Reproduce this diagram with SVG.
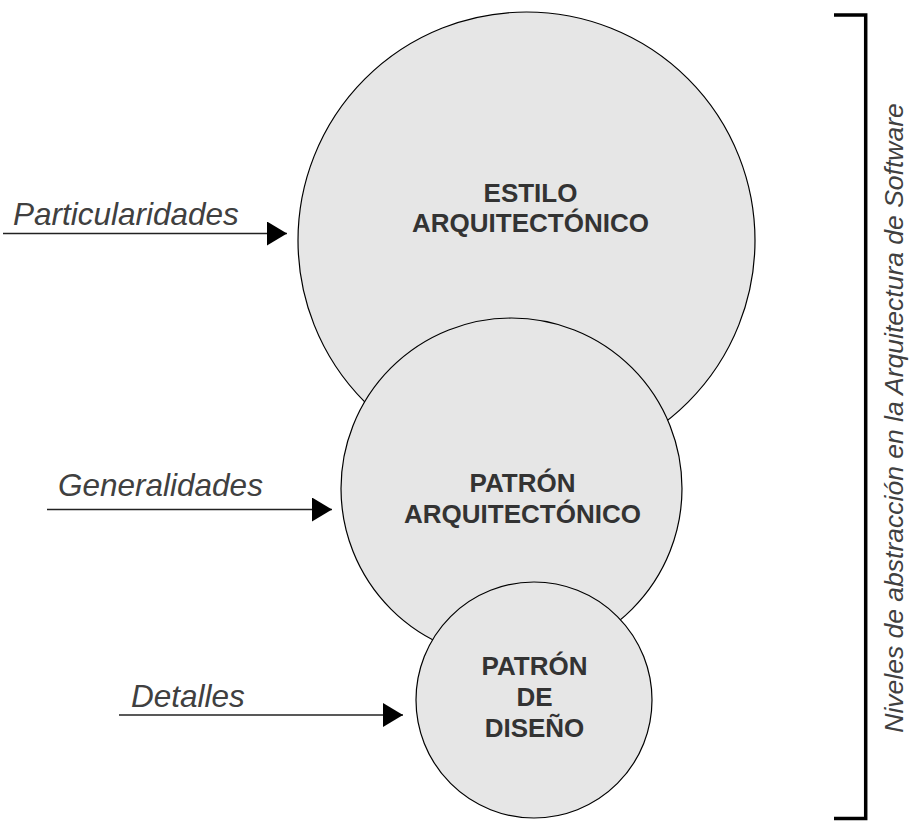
<svg xmlns="http://www.w3.org/2000/svg" width="909" height="821" viewBox="0 0 909 821">
<style>
.c{fill:#e6e6e6;stroke:#000;stroke-width:1.2}
.t{font-family:"Liberation Sans",Arial,sans-serif;font-weight:bold;font-size:26px;fill:#333;text-anchor:middle}
.l{font-family:"Liberation Sans",Arial,sans-serif;font-style:italic;font-size:31.5px;fill:#404040}
.a{stroke:#222;stroke-width:1.6;fill:none;marker-end:url(#ah)}
</style>
<defs>
<marker id="ah" markerUnits="userSpaceOnUse" markerWidth="22" markerHeight="26" refX="20" refY="12" orient="auto" viewBox="0 0 22 26">
<path d="M0,0 L20,12 L0,24 Z" fill="#000"/>
</marker>
</defs>
<g id="estilo">
<circle class="c" cx="526.5" cy="240.5" r="228.5"/>
<text class="t" x="530.5" y="202">ESTILO</text>
<text class="t" x="530.5" y="232">ARQUITECTÓNICO</text>
</g>
<g id="patron-arq">
<circle class="c" cx="511.5" cy="488.5" r="170.5"/>
<text class="t" x="522.5" y="492">PATRÓN</text>
<text class="t" x="522.5" y="523">ARQUITECTÓNICO</text>
</g>
<g id="patron-diseno">
<circle class="c" cx="534" cy="700" r="118"/>
<text class="t" x="534.5" y="675">PATRÓN</text>
<text class="t" x="534.5" y="706">DE</text>
<text class="t" x="534.5" y="737">DISEÑO</text>
</g>
<g id="connectors">
<line class="a" x1="3" y1="233.5" x2="287" y2="233.5"/>
<line class="a" x1="47" y1="509.5" x2="332" y2="509.5"/>
<line class="a" x1="119" y1="715" x2="403" y2="715"/>
</g>
<g id="labels">
<text class="l" x="13" y="225">Particularidades</text>
<text class="l" x="58" y="496">Generalidades</text>
<text class="l" x="131" y="707">Detalles</text>
</g>
<g id="bracket">
<path d="M834,15 L865.7,15 L865.7,818.5 L834,818.5" fill="none" stroke="#000" stroke-width="3.5"/>
<text font-family="'Liberation Sans',Arial,sans-serif" font-style="italic" font-size="26.5" fill="#404040" text-anchor="middle" transform="translate(902.5,418) rotate(-90)">Niveles de abstracción en la Arquitectura de Software</text>
</g>
</svg>
